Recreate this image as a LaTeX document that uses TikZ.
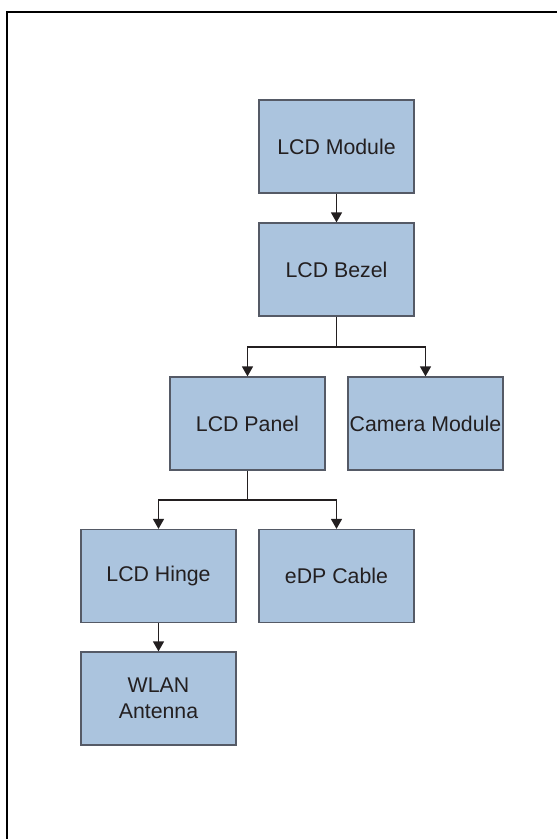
\documentclass[tikz,border=0pt]{standalone}
\usepackage{fontspec}
\setmainfont{Liberation Sans}
\usetikzlibrary{arrows.meta}
\definecolor{boxfill}{HTML}{ABC4DE}
\definecolor{boxline}{HTML}{555A66}
\definecolor{txt}{HTML}{231F20}
\begin{document}
\begin{tikzpicture}[x=1pt,y=-1pt,
  blockbox/.style={draw=boxline,fill=boxfill,line width=1.2pt,minimum width=155pt,minimum height=93pt,inner sep=0pt,align=center,text=txt,font=\fontsize{21.3}{26}\selectfont},
  conn/.style={draw=txt,line width=1.3pt},
  arr/.style={conn,-{Triangle[length=10pt,width=11pt]}}]
\useasboundingbox (0,0) rectangle (557,839);
\draw[line width=2.4pt] (7,839) -- (7,12) -- (557,12);
\node[blockbox] (mod) at (336.5,146.5) {LCD Module};
\node[blockbox] (bez) at (336.5,269.5) {LCD Bezel};
\node[blockbox] (pan) at (247.5,423.5) {LCD Panel};
\node[blockbox] (cam) at (425.5,423.5) {Camera Module};
\node[blockbox] (hin) at (158.5,576) {LCD Hinge};
\node[blockbox] (edp) at (336.5,576) {eDP Cable};
\node[blockbox] (wla) at (158.5,698.5) {WLAN\\Antenna};
\coordinate (j1) at (336.5,347);
\coordinate (j2) at (247.5,500);
\draw[arr] (mod) -- (bez);
\draw[conn] (bez.south) -- (j1);
\draw[arr] (j1) -| (pan.north);
\draw[arr] (j1) -| (cam.north);
\draw[conn] (pan.south) -- (j2);
\draw[arr] (j2) -| (hin.north);
\draw[arr] (j2) -| (edp.north);
\draw[arr] (hin) -- (wla);
\end{tikzpicture}
\end{document}
